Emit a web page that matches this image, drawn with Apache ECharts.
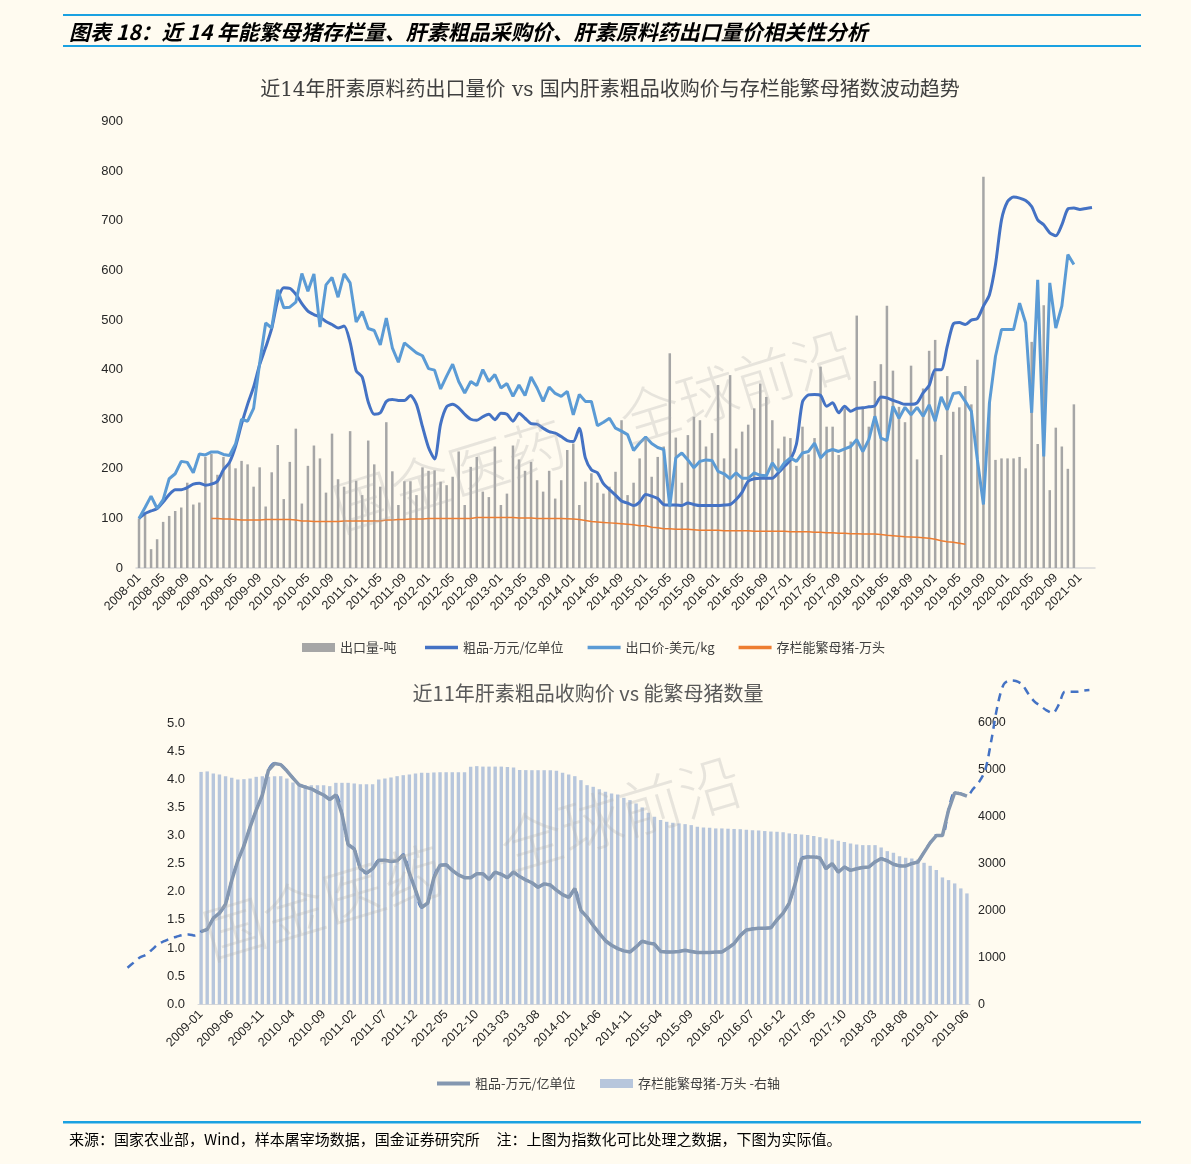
<!DOCTYPE html>
<html>
<head>
<meta charset="utf-8">
<title>肝素相关性分析</title>
<script src="https://cdn.jsdelivr.net/npm/echarts@6/dist/echarts.min.js"></script>
<style>
    html, body { margin: 0; padding: 0; background: #FFFBF0; }
    #main { width: 1191px; height: 1164px; }
</style>
</head>
<body>
<div id="main"></div>
<script>
// 月份标签
function months(y0, m0, n) {
    var out = [];
    for (var k = 0; k < n; k++) {
        var m = m0 - 1 + k, y = y0 + Math.floor(m / 12), mm = m % 12 + 1;
        out.push(y + '-' + (mm < 10 ? '0' : '') + mm);
    }
    return out;
}
var topMonths = months(2008, 1, 159);      // 2008-01 ~ 2021-03
var bottomMonths = months(2009, 1, 126);   // 2009-01 ~ 2019-06
var dashMonths = months(2008, 1, 158);     // 2008-01 ~ 2021-02

// 上图：指数化数据
var exportVol = [100,108,38,58,93,105,115,122,172,128,132,224,
    230,188,224,212,201,216,209,164,203,124,193,248,
    139,214,281,130,206,247,221,152,271,179,164,276,
    176,147,257,209,164,294,195,127,175,175,147,203,
    196,197,174,167,184,235,127,204,224,154,143,245,
    127,150,247,219,196,214,177,154,196,140,177,238,
    251,127,174,191,172,150,164,194,298,147,172,221,
    265,184,224,245,433,263,172,268,305,298,245,272,
    369,221,389,241,275,289,322,372,345,298,241,265,
    262,206,285,229,262,406,285,285,228,322,255,509,
    325,285,377,411,529,398,325,294,408,219,362,438,
    460,228,387,315,324,367,330,420,789,335,218,221,
    221,221,224,201,456,250,530,157,283,245,200,330];

var crudeIndex = [100,110,115,120,133,148,158,158,162,169,171,167,
    169,175,198,213,245,290,330,365,410,445,483,540,
    565,564,552,533,518,511,506,497,491,484,488,455,
    398,385,335,310,313,336,340,338,338,348,330,285,
    243,220,290,325,330,323,310,300,298,305,310,299,
    312,310,296,312,302,291,290,282,275,272,265,257,
    255,282,222,198,192,170,158,147,135,131,126,133,
    148,145,140,128,127,127,126,131,128,126,126,126,
    126,127,128,138,153,175,180,181,181,181,192,205,
    218,250,335,349,350,348,326,333,313,326,316,322,
    323,325,327,345,343,338,334,330,330,333,353,368,
    400,400,447,492,495,491,500,503,528,551,612,702,
    739,748,746,741,729,702,692,676,670,692,724,726,
    723,725,727];

var exportPrice = [100,122,145,120,138,180,190,215,213,192,230,228,
    234,234,229,227,250,300,296,322,413,494,484,561,
    525,526,536,594,558,593,486,571,586,546,593,575,
    496,517,483,479,450,504,444,415,454,444,434,428,
    402,399,361,387,411,376,353,376,368,400,376,390,
    363,372,346,369,348,385,363,336,365,352,346,356,
    309,350,336,336,287,294,302,282,276,269,237,252,
    264,251,243,239,124,222,232,218,202,215,218,217,
    195,190,180,192,181,181,192,187,186,212,195,212,
    222,215,232,235,252,222,235,239,235,240,245,259,
    235,259,306,262,257,326,302,324,309,324,306,329,
    296,345,319,352,354,336,316,218,128,333,427,481,
    481,481,534,494,313,581,225,575,484,528,632,612];

// 存栏能繁母猪指数，2009-01 起
var sowIndexStart = 12;
var sowIndex = [100,100,99,99,98,97,97,97,97,98,98,98,
    98,98,97,95,95,94,94,94,94,94,95,95,
    95,95,95,95,95,97,97,98,98,99,99,99,
    100,100,100,100,100,100,100,100,102,102,102,102,
    102,102,102,101,101,101,100,100,100,100,100,99.5,
    99,98,96,94,93,92,91,90,89,88,87,85,
    85,82,81,79,79,78,78,78,77,76,76,76,
    76,75,75,75,75,75,74,74,74,74,74,74,
    73,73,73,73,72,72,71,71,70,70,69,69,
    68.5,68.5,68.5,67.5,66,65,64,63,62.5,62,61,60,
    58,55,53,52,50,48];

// 下图：实际值
var sowStock = [4957,4967,4922,4900,4866,4830,4795,4802,4816,4852,4866,4852,
    4866,4866,4816,4731,4688,4674,4674,4674,4674,4653,4724,4724,
    4724,4710,4695,4695,4695,4795,4816,4838,4866,4887,4902,4923,
    4937,4937,4945,4950,4950,4950,4950,4950,5065,5080,5070,5070,
    5070,5070,5060,5050,5000,4995,4993,4993,4993,4993,4979,4937,
    4902,4866,4781,4674,4639,4589,4532,4497,4476,4405,4355,4284,
    4199,4085,4000,3929,3893,3872,3858,3843,3822,3787,3772,3765,
    3751,3751,3745,3740,3735,3725,3715,3705,3695,3685,3680,3670,
    3645,3635,3620,3609,3590,3565,3538,3515,3488,3460,3431,3410,
    3395,3395,3395,3345,3267,3231,3160,3124,3110,3089,3018,2954,
    2862,2706,2649,2578,2472,2365];

var crudePrice = [1.29,1.33,1.53,1.62,1.78,2.20,2.55,2.82,3.15,3.45,3.72,4.16,
    4.28,4.26,4.15,4.02,3.90,3.86,3.83,3.77,3.72,3.64,3.72,3.38,
    2.84,2.76,2.41,2.33,2.41,2.56,2.56,2.54,2.55,2.66,2.33,2.03,
    1.72,1.80,2.25,2.47,2.48,2.38,2.30,2.25,2.25,2.32,2.32,2.22,
    2.35,2.31,2.25,2.35,2.27,2.21,2.16,2.08,2.14,2.12,2.03,1.95,
    1.90,2.06,1.67,1.55,1.40,1.26,1.13,1.05,0.99,0.95,0.93,1.02,
    1.12,1.09,1.07,0.94,0.93,0.93,0.94,0.96,0.94,0.92,0.92,0.92,
    0.93,0.93,1.00,1.08,1.22,1.32,1.34,1.35,1.35,1.36,1.50,1.62,
    1.80,2.15,2.59,2.62,2.62,2.60,2.41,2.50,2.35,2.44,2.38,2.41,
    2.43,2.44,2.53,2.59,2.55,2.49,2.46,2.46,2.50,2.53,2.70,2.87,
    3.00,3.00,3.45,3.76,3.74,3.70];

// 虚线：2008 年与 2019-07 之后的延伸
var dashHead = [0.65,0.74,0.83,0.88,0.97,1.07,1.12,1.17,1.20,1.23,1.24,1.22];
var dashTail = [3.82,3.95,4.16,4.69,5.30,5.68,5.75,5.74,5.68,5.52,5.38,5.30,
    5.22,5.17,5.32,5.55,5.55,5.55,5.57,5.58];

var topYTicks = { min: 0, max: 900, interval: 100 };
var leftYTicks = { min: 0, max: 5, interval: 0.5 };
var rightYTicks = { min: 0, max: 6000, interval: 1000 };

var sowData = sowIndex.map(function (v, k) { return [topMonths[sowIndexStart + k], v]; });
var dashData = dashHead.concat(crudePrice, dashTail);

var labelFont = 'Liberation Sans, Arial, sans-serif';
var cjkFont = '"Noto Sans CJK SC", sans-serif';
var legendText = { fontSize: 13, color: '#404040', fontFamily: cjkFont };

var chart = echarts.init(document.getElementById('main'));
var option = {
    animation: false,
    backgroundColor: '#FFFBF0',
    title: [
        {
            text: '图表 18：近 14 年能繁母猪存栏量、肝素粗品采购价、肝素原料药出口量价相关性分析',
            left: 64, top: 17,
            textStyle: { fontSize: 21, fontWeight: 'bold', fontStyle: 'italic', color: '#000', fontFamily: cjkFont }
        },
        {
            text: '近14年肝素原料药出口量价 vs 国内肝素粗品收购价与存栏能繁母猪数波动趋势',
            left: 605, top: 76, textAlign: 'center',
            textStyle: { fontSize: 20, fontWeight: 'normal', color: '#404040', fontFamily: '"DejaVu Serif", "Noto Sans CJK SC", serif' }
        },
        {
            text: '近11年肝素粗品收购价 vs 能繁母猪数量',
            left: 583, top: 678, textAlign: 'center',
            textStyle: { fontSize: 20, fontWeight: 'normal', color: '#595959', fontFamily: cjkFont }
        },
        {
            text: '来源：国家农业部，Wind，样本屠宰场数据，国金证券研究所     注：上图为指数化可比处理之数据，下图为实际值。',
            left: 64, top: 1127,
            textStyle: { fontSize: 15, fontWeight: 'normal', color: '#000', fontFamily: cjkFont }
        }
    ],
    legend: [
        {
            left: 297, top: 636, itemWidth: 33, itemHeight: 9,
            textStyle: legendText,
            data: [{ name: '出口量-吨', icon: 'rect' }]
        },
        {
            left: 420, top: 636, itemWidth: 33, itemHeight: 3.5, itemGap: 24,
            textStyle: legendText,
            data: [
                { name: '粗品-万元/亿单位', icon: 'rect' },
                { name: '出口价-美元/kg', icon: 'rect' },
                { name: '存栏能繁母猪-万头', icon: 'rect' }
            ]
        },
        {
            left: 432, top: 1072, itemWidth: 33, itemHeight: 4,
            textStyle: legendText,
            data: [{ name: '粗品-万元/亿单位 ', icon: 'rect' }]
        },
        {
            left: 595, top: 1072, itemWidth: 33, itemHeight: 9,
            textStyle: legendText,
            data: [{ name: '存栏能繁母猪-万头 -右轴', icon: 'rect' }]
        }
    ],
    graphic: [
        { type: 'rect', shape: { x: 63, y: 14, width: 1078, height: 2 }, style: { fill: '#1AA1E1' } },
        { type: 'rect', shape: { x: 63, y: 45, width: 1078, height: 2 }, style: { fill: '#1AA1E1' } },
        { type: 'rect', shape: { x: 63, y: 1121, width: 1078, height: 2.5 }, style: { fill: '#1AA1E1' } },
        // 水印
        {
            type: 'text', x: 326, y: 482, rotation: 0.3, z: 100, silent: true,
            style: { text: '国金医药　全球前沿', font: '300 60px "Noto Sans CJK SC"', fill: 'rgba(175,175,175,0.3)' }
        },
        {
            type: 'text', x: 196, y: 908, rotation: 0.29, z: 100, silent: true,
            style: { text: '国金医药　全球前沿', font: '300 62px "Noto Sans CJK SC"', fill: 'rgba(175,175,175,0.3)' }
        }
    ],
    grid: [
        { left: 136, right: 96, top: 121.7, bottom: 596 },
        { left: 198, right: 221, top: 723, bottom: 159.7 },
        { left: 127.5, right: 101.6, top: 666.4, bottom: 159.7 }
    ],
    xAxis: [
        {
            gridIndex: 0, type: 'category', data: topMonths, boundaryGap: true,
            axisLine: { lineStyle: { color: '#D9D9D9', width: 1.5 } },
            axisTick: { show: false },
            axisLabel: { interval: 3, rotate: 45, color: '#262626', fontSize: 12.5, fontFamily: labelFont, margin: 8 }
        },
        {
            gridIndex: 1, type: 'category', data: bottomMonths, boundaryGap: true,
            axisLine: { lineStyle: { color: '#D9D9D9', width: 1 } },
            axisTick: { show: false },
            axisLabel: { interval: 4, rotate: 45, color: '#262626', fontSize: 12.5, fontFamily: labelFont, margin: 8 }
        },
        {
            gridIndex: 2, type: 'category', data: dashMonths, boundaryGap: false, show: false
        }
    ],
    yAxis: [
        {
            gridIndex: 0, type: 'value', min: topYTicks.min, max: topYTicks.max, interval: topYTicks.interval,
            splitLine: { show: false }, axisLine: { show: false }, axisTick: { show: false },
            axisLabel: { color: '#262626', fontSize: 13, fontFamily: labelFont, margin: 13 }
        },
        {
            gridIndex: 1, type: 'value', min: leftYTicks.min, max: leftYTicks.max, interval: leftYTicks.interval,
            splitLine: { show: false }, axisLine: { show: false }, axisTick: { show: false },
            axisLabel: {
                color: '#262626', fontSize: 13, fontFamily: labelFont, margin: 13,
                formatter: function (v) { return v.toFixed(1); }
            }
        },
        {
            gridIndex: 1, type: 'value', position: 'right',
            min: rightYTicks.min, max: rightYTicks.max, interval: rightYTicks.interval,
            splitLine: { show: false }, axisLine: { show: false }, axisTick: { show: false },
            axisLabel: {
                color: '#262626', fontSize: 12.5, fontFamily: labelFont, margin: 8,
                formatter: function (v) { return String(v); }
            }
        },
        {
            gridIndex: 2, type: 'value', min: 0, max: 6, show: false
        }
    ],
    series: [
        {
            name: '出口量-吨', type: 'bar', xAxisIndex: 0, yAxisIndex: 0,
            data: exportVol, barWidth: 2.5, itemStyle: { color: '#A6A6A6' }, z: 2
        },
        {
            name: '粗品-万元/亿单位', type: 'line', xAxisIndex: 0, yAxisIndex: 0,
            data: crudeIndex, symbol: 'none', smooth: 0.25,
            lineStyle: { color: '#4472C4', width: 3 }, itemStyle: { color: '#4472C4' }, z: 3
        },
        {
            name: '出口价-美元/kg', type: 'line', xAxisIndex: 0, yAxisIndex: 0,
            data: exportPrice, symbol: 'none',
            lineStyle: { color: '#5B9BD5', width: 3 }, itemStyle: { color: '#5B9BD5' }, z: 4
        },
        {
            name: '存栏能繁母猪-万头', type: 'line', xAxisIndex: 0, yAxisIndex: 0,
            data: sowData, symbol: 'none',
            lineStyle: { color: '#ED7D31', width: 1.5 }, itemStyle: { color: '#ED7D31' }, z: 5
        },
        {
            name: '存栏能繁母猪-万头 -右轴', type: 'bar', xAxisIndex: 1, yAxisIndex: 2,
            data: sowStock, barWidth: 3.4, itemStyle: { color: '#B7C6DC' }, z: 2
        },
        {
            name: '虚线', type: 'line', xAxisIndex: 2, yAxisIndex: 3,
            data: dashData, symbol: 'none', smooth: 0.3,
            lineStyle: { color: '#4472C4', width: 2.5, type: [8, 6] }, z: 3
        },
        {
            name: '粗品-万元/亿单位 ', type: 'line', xAxisIndex: 1, yAxisIndex: 1,
            data: crudePrice, symbol: 'none',
            lineStyle: { color: '#8497B0', width: 3.5 }, itemStyle: { color: '#8497B0' }, z: 4
        }
    ]
};
chart.setOption(option);
</script>
</body>
</html>
